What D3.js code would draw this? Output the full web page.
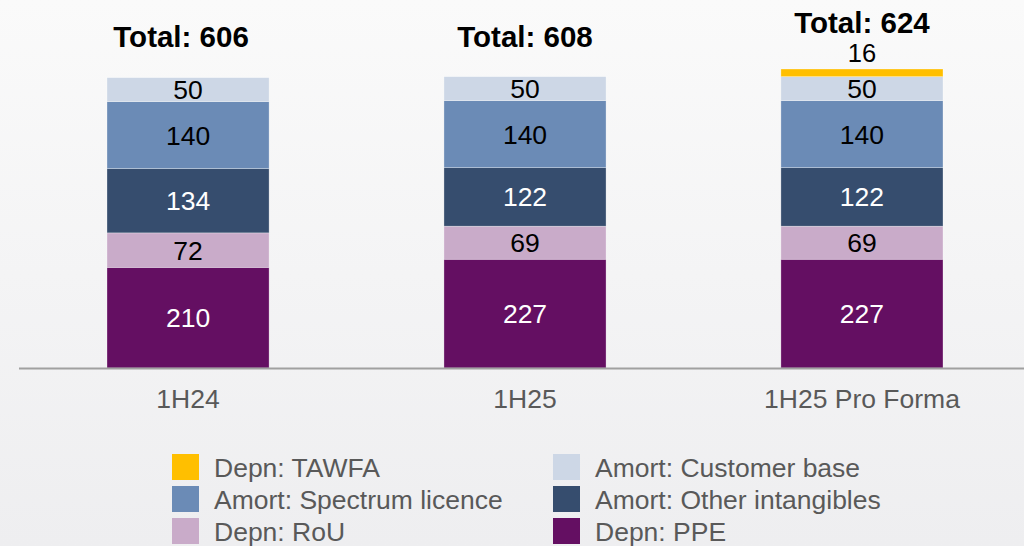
<!DOCTYPE html>
<meta charset="utf-8">
<script src="https://d3js.org/d3.v7.min.js"></script>
<style>
  body { margin: 0; }
  svg { display: block; font-family: "Liberation Sans", Arial, sans-serif; }
</style>
<div id="my_dataviz"></div>
<script>
  // data
  const categories = ["1H24", "1H25", "1H25 Pro Forma"];
  const totals = [606, 608, 624];
  const ppe = [210, 227, 227];
  const rou = [72, 69, 69];
  const otherIntangibles = [134, 122, 122];
  const spectrum = [140, 140, 140];
  const customerBase = [50, 50, 50];
  const tawfa = [0, 0, 16];

  const seriesNames = ["Depn: PPE", "Depn: RoU", "Amort: Other intangibles",
    "Amort: Spectrum licence", "Amort: Customer base", "Depn: TAWFA"];
  const seriesValues = [ppe, rou, otherIntangibles, spectrum, customerBase, tawfa];
  const seriesColors = ["#640f62", "#c9abc9", "#364d6e", "#6b8bb6", "#cdd7e6", "#ffbf00"];
  const labelColors = ["#fff", "#000", "#fff", "#000", "#000", "#000"];
  const legendOrder = ["Depn: TAWFA", "Amort: Customer base", "Amort: Spectrum licence",
    "Amort: Other intangibles", "Depn: RoU", "Depn: PPE"];

  const width = 1024, height = 546;

  const svg = d3.select("#my_dataviz")
    .append("svg")
    .attr("width", width)
    .attr("height", height);

  // soft grey backdrop
  const grad = svg.append("defs").append("linearGradient")
    .attr("id", "bg").attr("x1", 0).attr("y1", 0).attr("x2", 0).attr("y2", 1);
  grad.append("stop").attr("offset", "0%").attr("stop-color", "#fafafa");
  grad.append("stop").attr("offset", "100%").attr("stop-color", "#eeeef0");
  svg.append("rect").attr("width", width).attr("height", height).attr("fill", "url(#bg)");

  // table for the stack
  const table = categories.map((c, i) => {
    const row = { cat: c };
    seriesNames.forEach((s, j) => row[s] = seriesValues[j][i]);
    return row;
  });
  const stacked = d3.stack().keys(seriesNames)(table);

  const x = d3.scaleBand()
    .domain(categories)
    .range([107, 943])
    .paddingInner(0.519)
    .paddingOuter(0);

  const y = d3.scaleLinear()
    .domain([0, 624])
    .range([368, 69]);

  const color = d3.scaleOrdinal().domain(seriesNames).range(seriesColors);

  // bars
  const layer = svg.selectAll(".layer")
    .data(stacked)
    .join("g")
    .attr("class", "layer")
    .attr("fill", d => color(d.key));

  layer.selectAll("rect")
    .data(d => d.filter(p => p[1] - p[0] > 0))
    .join("rect")
    .attr("x", d => x(d.data.cat))
    .attr("y", d => y(d[1]))
    .attr("width", x.bandwidth())
    .attr("height", d => y(d[0]) - y(d[1]))
    .attr("stroke", "rgba(255,255,255,0.5)")
    .attr("stroke-width", 0.6);

  // value labels
  stacked.forEach((s, j) => {
    s.forEach(p => {
      const v = p[1] - p[0];
      if (v <= 0) return;
      const cx = x(p.data.cat) + x.bandwidth() / 2;
      const small = v < 30;
      svg.append("text")
        .attr("x", cx)
        .attr("y", small ? y(p[1]) - 7 : (y(p[0]) + y(p[1])) / 2 + 9.5)
        .attr("text-anchor", "middle")
        .attr("font-size", small ? 25.5 : 26.5)
        .attr("fill", small ? "#000" : labelColors[j])
        .text(v);
    });
  });

  // totals
  svg.selectAll(".total")
    .data(categories)
    .join("text")
    .attr("class", "total")
    .attr("x", d => x(d) + x.bandwidth() / 2 - (d === "1H24" ? 7 : 0))
    .attr("y", (d, i) => tawfa[i] > 0 ? 33 : 47)
    .attr("text-anchor", "middle")
    .attr("font-size", 29.5)
    .attr("font-weight", "bold")
    .attr("fill", "#000")
    .text((d, i) => "Total: " + totals[i]);

  // x axis
  const xAxis = svg.append("g")
    .attr("transform", "translate(0,368)")
    .call(d3.axisBottom(x).tickSize(0).tickPadding(21));
  xAxis.select(".domain").remove();
  xAxis.selectAll("text")
    .attr("font-size", 26.5)
    .attr("font-family", "Liberation Sans, Arial, sans-serif")
    .attr("fill", "#595959");
  svg.append("line")
    .attr("x1", 19).attr("x2", 1024)
    .attr("y1", 368.5).attr("y2", 368.5)
    .attr("stroke", "#a0a0a0")
    .attr("stroke-width", 2);

  // legend
  const legend = svg.selectAll(".legend")
    .data(legendOrder)
    .join("g")
    .attr("class", "legend")
    .attr("transform", (d, i) => `translate(${i % 2 === 0 ? 172 : 553},${454 + Math.floor(i / 2) * 32})`);

  legend.append("rect")
    .attr("width", 27).attr("height", 26)
    .attr("fill", d => color(d));

  legend.append("text")
    .attr("x", 42)
    .attr("y", 22.5)
    .attr("font-size", 26.5)
    .attr("fill", "#595959")
    .text(d => d);
</script>
